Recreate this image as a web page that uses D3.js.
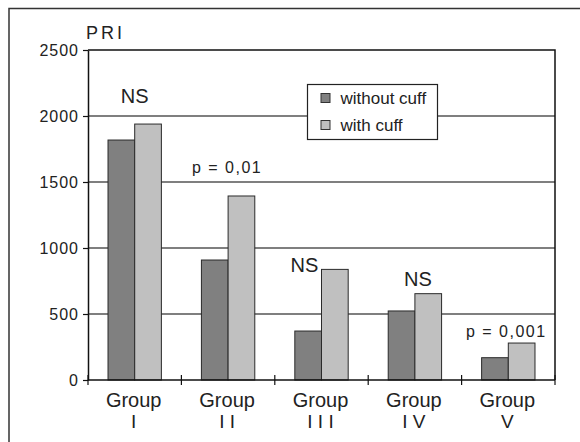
<!DOCTYPE html>
<html>
<head>
<meta charset="utf-8">
<script src="https://cdn.jsdelivr.net/npm/d3@7"></script>
<style>
  html, body { margin: 0; padding: 0; background: #fff; }
  svg { display: block; font-family: "Liberation Sans", Arial, sans-serif; }
</style>
</head>
<body>
<svg id="chart" width="580" height="442"></svg>
<script>
// PRI per group, with and without cuff
const groups = ["Group I", "Group II", "Group III", "Group IV", "Group V"];
const numerals = ["I", "I I", "I I I", "I V", "V"];
const seriesNames = ["without cuff", "with cuff"];
const withoutCuff = [1818, 909, 371, 523, 169];
const withCuff = [1939, 1394, 838, 654, 280];
const significance = ["NS", "p = 0,01", "NS", "NS", "p = 0,001"];
// PRI level at which each significance note sits
const significanceLevel = [2098, 1568, 818, 712, 326];
const yTicks = [0, 500, 1000, 1500, 2000, 2500];

const colors = ["#808080", "#c0c0c0"];
// horizontal nudge of each note relative to its group centre (px)
const noteShift = [0, -1, -17, 3, -2];

const svg = d3.select("#chart");
const plot = { left: 88, right: 555, top: 50, bottom: 380 };

// outer frame (top and left edges visible)
svg.append("path")
  .attr("d", `M9,442 L9,8.5 L580,8.5`)
  .attr("fill", "none").attr("stroke", "#333").attr("stroke-width", 1.5);

const x = d3.scaleBand().domain(groups).range([plot.left, plot.right]).paddingInner(0).paddingOuter(0);
const xInner = d3.scaleBand().domain(seriesNames).range([0, x.bandwidth()]).paddingInner(0).paddingOuter(0.75);
const y = d3.scaleLinear().domain([0, 2500]).range([plot.bottom, plot.top]);

// horizontal gridlines
svg.append("g").selectAll("line").data(yTicks.filter(t => t > 0 && t < 2500)).join("line")
  .attr("x1", plot.left).attr("x2", plot.right)
  .attr("y1", d => y(d)).attr("y2", d => y(d))
  .attr("stroke", "#555").attr("stroke-width", 1.5);

// bars
const data = groups.map((g, i) => ({ g, vals: [withoutCuff[i], withCuff[i]] }));
const gGroups = svg.append("g").selectAll("g").data(data).join("g")
  .attr("transform", d => `translate(${x(d.g)},0)`);
gGroups.selectAll("rect").data(d => d.vals.map((v, j) => ({ v, s: seriesNames[j], j }))).join("rect")
  .attr("x", d => xInner(d.s))
  .attr("y", d => y(d.v))
  .attr("width", xInner.bandwidth())
  .attr("height", d => y(0) - y(d.v))
  .attr("fill", d => colors[d.j])
  .attr("stroke", "#2a2a2a").attr("stroke-width", 1);

// plot border: top and right
svg.append("path")
  .attr("d", `M${plot.left},${y(2500)} L${plot.right},${y(2500)} L${plot.right},${y(0)}`)
  .attr("fill", "none").attr("stroke", "#111").attr("stroke-width", 1.5);

// y axis
const yAxis = d3.axisLeft(y).tickValues(yTicks).tickFormat(d3.format("d"))
  .tickSize(5).tickSizeOuter(0).tickPadding(4);
const ya = svg.append("g").attr("transform", `translate(${plot.left},0)`).call(yAxis);
ya.select(".domain").attr("stroke", "#111").attr("stroke-width", 1.5);
ya.selectAll(".tick line").attr("stroke", "#111").attr("stroke-width", 1.2);
ya.selectAll(".tick text").attr("font-size", 16).attr("fill", "#222").attr("letter-spacing", 1)
  .attr("font-family", "Liberation Sans, Arial, sans-serif").attr("dy", "0.36em");

// x axis
const xa = svg.append("g").attr("transform", `translate(0,${plot.bottom})`);
xa.append("line").attr("x1", plot.left).attr("x2", plot.right).attr("y1", 0).attr("y2", 0)
  .attr("stroke", "#111").attr("stroke-width", 1.5);
const boundaries = groups.map(g => x(g)).concat([plot.right]);
xa.selectAll("line.tk").data(boundaries).join("line").attr("class", "tk")
  .attr("x1", d => d).attr("x2", d => d).attr("y1", -5).attr("y2", 5)
  .attr("stroke", "#111").attr("stroke-width", 1.2);
const labels = xa.selectAll("g.lbl").data(groups).join("g").attr("class", "lbl")
  .attr("transform", d => `translate(${x(d) + x.bandwidth() / 2 - 1},0)`);
labels.append("text").attr("y", 27).attr("text-anchor", "middle")
  .attr("font-size", 20).attr("fill", "#222").text("Group");
labels.append("text").attr("y", 48).attr("text-anchor", "middle")
  .attr("font-size", 19).attr("fill", "#222").text((d, i) => numerals[i]);

// axis title
svg.append("text").attr("x", 86).attr("y", 39).attr("font-size", 18)
  .attr("letter-spacing", 3).attr("fill", "#222").text("PRI");

// significance notes above each group
svg.append("g").selectAll("text").data(data).join("text")
  .attr("x", (d, i) => x(d.g) + x.bandwidth() / 2 + noteShift[i])
  .attr("y", (d, i) => y(significanceLevel[i]))
  .attr("text-anchor", "middle")
  .attr("font-size", (d, i) => significance[i] === "NS" ? 20 : 16)
  .attr("letter-spacing", (d, i) => significance[i] === "NS" ? 0 : 1.5)
  .attr("fill", "#222")
  .text((d, i) => significance[i]);

// legend
const lg = svg.append("g").attr("transform", "translate(307.5,84.5)");
lg.append("rect").attr("width", 130).attr("height", 55)
  .attr("fill", "#fff").attr("stroke", "#222").attr("stroke-width", 1.2);
seriesNames.forEach((s, j) => {
  lg.append("rect").attr("x", 13.5).attr("y", 9 + j * 27).attr("width", 9).attr("height", 9)
    .attr("fill", colors[j]).attr("stroke", "#333").attr("stroke-width", 1);
  lg.append("text").attr("x", 33).attr("y", 19 + j * 27).attr("font-size", 17)
    .attr("fill", "#222").text(s);
});
</script>
</body>
</html>
